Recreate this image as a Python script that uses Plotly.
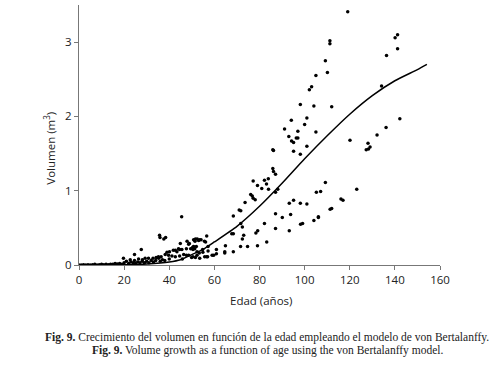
import plotly.graph_objects as go

# observed data (age in years, volume in m3)
age = [0,1,2,3,4,5,6,7,8,9,10,11,12,13,14,15,16,17,
       18,19,19.7,20,21,22,22.7,23,24,24.6,24.6,25,26,26.4,27,27.6,28,28.1,29,29.3,30,30.8,31,32,32.8,33,34,34.2,
       35.2,35.3,35.7,35.9,36,36.4,37,37.6,38.2,38.4,39,39.7,38,40.1,40,41.2,41.8,42.7,42.7,43.4,44.1,44.6,44.6,
       44.9,45.5,45.6,45.8,46.4,47.6,47.6,47.9,48.6,48.6,48.9,49.5,49.9,50.4,50.5,50.5,50.8,50.8,51.3,51.4,51.6,
       51.6,52,52.3,52.3,52.4,53,53.3,53.5,53.5,54.1,54.8,54.9,55.6,55.7,56.1,56.6,56.6,57,57.2,57.2,59,59.7,
       60.9,60.9,64.6,64.6,64.9,67.7,68.4,68.4,68.4,71,71.6,71.7,71.7,72.4,72.4,73,73.6,74.7,76.1,76.8,77.2,77.2,
       78.1,78.4,79.1,79.1,79.2,81,82.2,82.2,83.1,83.2,83.9,84,85.9,85.9,86.2,86.2,87.1,87.1,87.1,87.1,88.1,90.1,
       91.1,93,93.2,93.2,93.8,94.1,94.2,95.1,95.1,95.1,96.3,97,97,98.1,98.1,98.1,98.2,99.1,100,101,101,101,102.1,
       103.1,104.1,104.1,105,105,105.2,106.1,106.1,107.1,109.2,109.2,110.1,111.2,111.2,111.3,112,112,116.1,117,
       119.1,120.1,123.1,127.3,128.3,129,128.1,132.1,134.1,136.1,136.3,140.1,141.2,141.2,142.2]
volume = [0,0,0.005,0,0.005,0,0.005,0.01,0,0.005,0.01,0.005,0.01,0.005,0.01,0.01,0.02,0.015,
          0.02,0.01,0.09,0.03,0.05,0.02,0.07,0.04,0.03,0.14,0.06,0.02,0.04,0.08,0.03,0.21,0.05,0.07,0.03,0.09,0.05,0.09,0.03,0.06,0.09,0.04,0.06,0.10,
          0.11,0.09,0.40,0.37,0.05,0.11,0.07,0.35,0.14,0.37,0.17,0.13,0.06,0.18,0.08,0.12,0.20,0.20,0.11,0.18,0.22,0.21,0.12,
          0.29,0.65,0.21,0.08,0.14,0.22,0.13,0.32,0.28,0.13,0.29,0.22,0.10,0.24,0.11,0.21,0.25,0.34,0.22,0.32,0.35,
          0.10,0.25,0.18,0.13,0.35,0.33,0.16,0.34,0.09,0.34,0.21,0.17,0.32,0.11,0.31,0.39,0.11,0.11,0.25,0.19,0.13,0.13,
          0.15,0.21,0.18,0.16,0.26,0.42,0.42,0.18,0.66,0.74,0.25,0.73,0.56,0.51,0.35,0.40,0.84,0.25,0.95,0.93,0.90,1.13,
          0.88,0.43,1.07,0.26,0.46,1.03,1.14,0.56,1.09,0.31,1.16,1.02,1.30,1.55,1.26,1.54,1.22,0.98,0.69,0.49,1.02,0.64,
          1.83,1.73,0.83,0.46,0.68,1.95,1.67,1.65,1.53,0.87,1.71,1.71,1.80,2.16,1.49,0.83,0.55,0.56,1.89,1.98,1.60,0.82,2.36,
          2.40,2.14,0.60,2.55,1.79,0.98,0.64,0.65,0.99,2.75,1.11,2.59,3.02,2.98,0.75,0.76,2.13,0.89,0.87,
          3.41,1.68,1.02,1.55,1.56,1.59,1.64,1.75,2.41,1.85,2.82,3.06,3.10,2.91,1.97]

# fitted von Bertalanffy curve
model_age = [0,10,20,30,40,45,50,55,60,70,80,90,100,110,120,130,140,150,154.2]
model_vol = [0,0.001,0.004,0.015,0.04,0.07,0.14,0.21,0.31,0.52,0.79,1.10,1.43,1.74,2.03,2.28,2.48,2.63,2.70]

x_ticks = [0,20,40,60,80,100,120,140,160]
y_ticks = [0,1,2,3]

fig = go.Figure()
fig.add_trace(go.Scatter(x=model_age, y=model_vol, mode="lines",
                         line=dict(color="black", width=1.5, shape="spline", smoothing=0.6),
                         hoverinfo="skip", showlegend=False))
fig.add_trace(go.Scatter(x=age, y=volume, mode="markers",
                         marker=dict(color="black", size=3.5),
                         showlegend=False))

axis_font = dict(family="Open Sans", size=11.5, color="#222")
fig.update_xaxes(range=[0, 160], tickvals=x_ticks, showgrid=False, zeroline=False,
                 showline=True, linecolor="#777", linewidth=1,
                 ticks="outside", ticklen=4, tickcolor="#777", tickfont=axis_font)
fig.update_yaxes(range=[0, 3.5], tickvals=y_ticks, showgrid=False, zeroline=False,
                 showline=True, linecolor="#777", linewidth=1,
                 ticks="outside", ticklen=4, tickcolor="#777", tickfont=axis_font)

serif = dict(family="Liberation Serif", size=11.5, color="#222")
fig.update_layout(
    width=495, height=369,
    margin=dict(l=79, r=55, t=5, b=104),
    paper_bgcolor="white", plot_bgcolor="white",
    annotations=[
        dict(text="Edad (años)", x=0.505, y=-0.136, xref="paper", yref="paper",
             showarrow=False, font=axis_font, xanchor="center", yanchor="middle"),
        dict(text="Volumen (m<sup>3</sup>)", x=-0.082, y=0.449, xref="paper", yref="paper",
             showarrow=False, font=axis_font, textangle=-90, xanchor="center", yanchor="middle"),
        dict(text="<b>Fig. 9.</b> Crecimiento del volumen en función de la edad empleando el modelo de von Bertalanffy.",
             x=0.521, y=-0.277, xref="paper", yref="paper", showarrow=False, font=serif,
             xanchor="center", yanchor="middle"),
        dict(text="<b>Fig. 9.</b> Volume growth as a function of age using the von Bertalanffy model.",
             x=0.521, y=-0.328, xref="paper", yref="paper", showarrow=False, font=serif,
             xanchor="center", yanchor="middle"),
    ],
)

fig.write_html("out.html", config={"displayModeBar": False},
               post_script="document.body.style.margin='0';")
